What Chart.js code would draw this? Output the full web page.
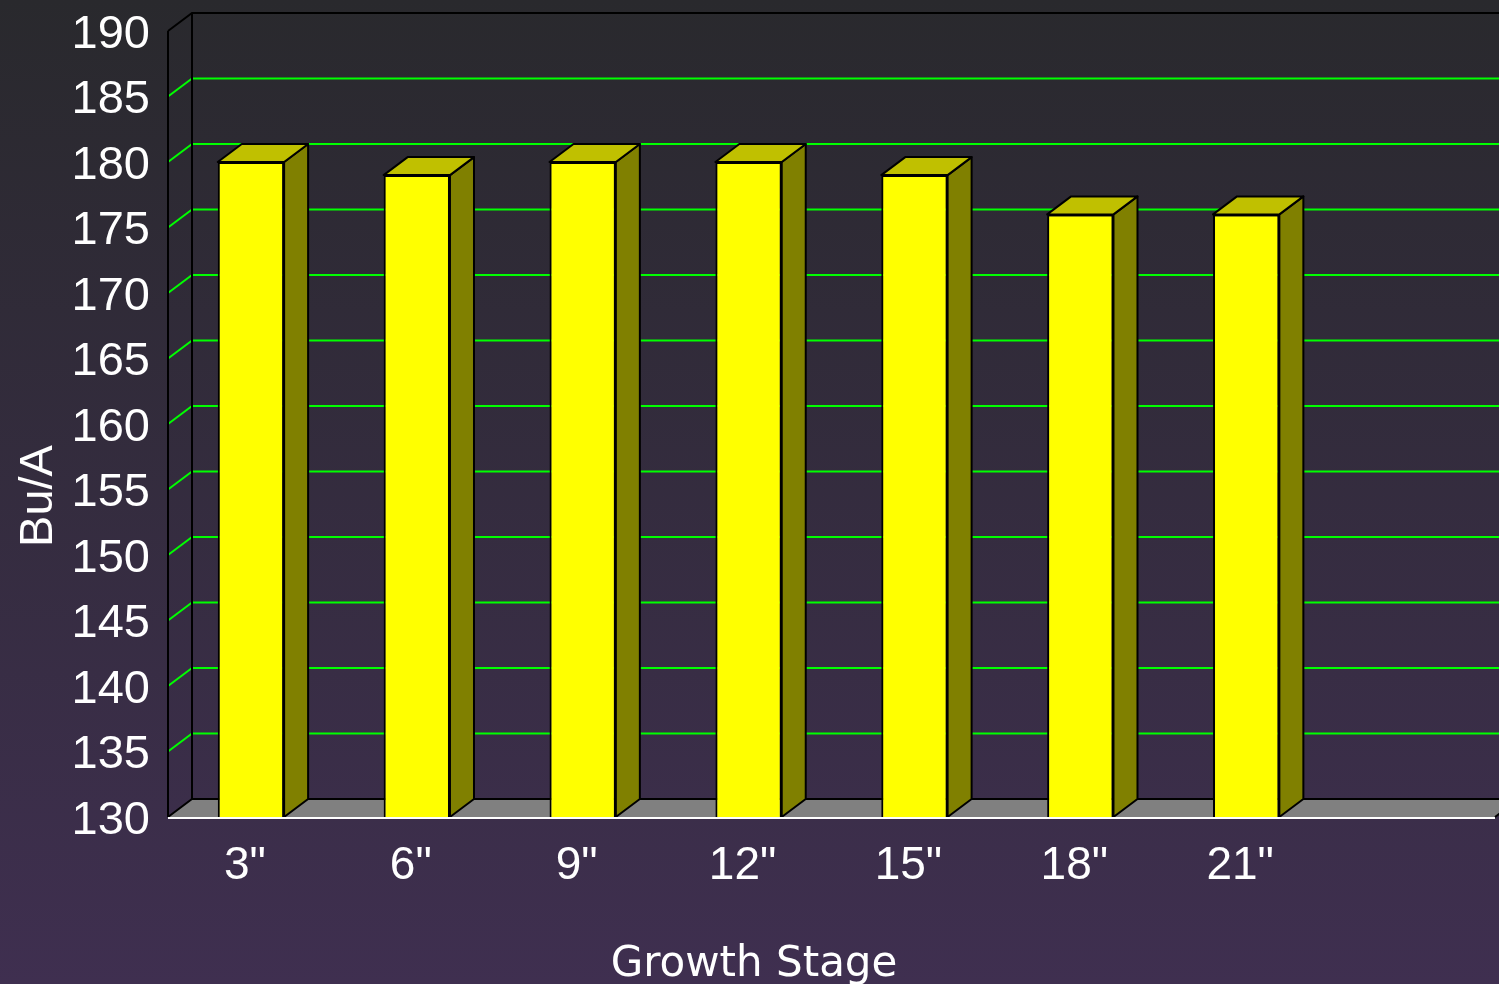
<!DOCTYPE html>
<html>
<head>
<meta charset="utf-8">
<script src="https://cdn.jsdelivr.net/npm/chart.js@4.4.1/dist/chart.umd.min.js"></script>
<style>
  html, body { margin: 0; padding: 0; background: #333; overflow: hidden; }
  #wrap { width: 1499px; height: 984px; position: relative; }
</style>
</head>
<body>
<div id="wrap"><canvas id="c" width="1499" height="984"></canvas></div>
<script>
// ---- data ----
const categories = ['3"', '6"', '9"', '12"', '15"', '18"', '21"', ''];
const yieldBuA = [180, 179, 180, 180, 179, 176, 176, null];
const yMin = 130;
const yMax = 190;
const yStep = 5;
const xTitle = 'Growth Stage';
const yTitle = 'Bu/A';

// ---- 3D look ----
const DX = 24, DY = -18;
const GRID = '#00ff00';

const threeD = {
  id: 'threeD',
  beforeDraw(chart) {
    const { ctx, width, height } = chart;
    const g = ctx.createLinearGradient(0, 0, 0, height);
    g.addColorStop(0, '#29292d');
    g.addColorStop(1, '#3f2f50');
    ctx.save();
    ctx.fillStyle = g;
    ctx.fillRect(0, 0, width, height);
    ctx.restore();
  },
  beforeDatasetsDraw(chart) {
    const { ctx, chartArea: a, scales: { y } } = chart;
    ctx.save();
    ctx.lineWidth = 2;
    // floor
    ctx.fillStyle = '#808080';
    ctx.beginPath();
    ctx.moveTo(a.left, a.bottom);
    ctx.lineTo(a.right, a.bottom);
    ctx.lineTo(a.right + DX, a.bottom + DY);
    ctx.lineTo(a.left + DX, a.bottom + DY);
    ctx.closePath();
    ctx.fill();
    // grid lines on back wall and side wall
    for (let v = yMin + yStep; v < yMax; v += yStep) {
      const yf = y.getPixelForValue(v);
      const yb = yf + DY;
      ctx.strokeStyle = GRID;
      ctx.beginPath();
      ctx.moveTo(a.left + DX, yb);
      ctx.lineTo(chart.width + 5, yb);
      ctx.stroke();
      ctx.beginPath();
      ctx.moveTo(a.left, yf);
      ctx.lineTo(a.left + DX, yb);
      ctx.stroke();
    }
    ctx.strokeStyle = '#000';
    // top edge
    ctx.beginPath();
    ctx.moveTo(a.left, a.top);
    ctx.lineTo(a.left + DX, a.top + DY);
    ctx.lineTo(chart.width + 5, a.top + DY);
    ctx.stroke();
    // back wall left edge
    ctx.beginPath();
    ctx.moveTo(a.left + DX, a.top + DY);
    ctx.lineTo(a.left + DX, a.bottom + DY);
    ctx.stroke();
    // front left axis
    ctx.beginPath();
    ctx.moveTo(a.left, a.top);
    ctx.lineTo(a.left, a.bottom);
    ctx.stroke();
    // floor back edge and left diagonal
    ctx.beginPath();
    ctx.moveTo(a.left, a.bottom);
    ctx.lineTo(a.left + DX, a.bottom + DY);
    ctx.lineTo(a.right + DX, a.bottom + DY);
    ctx.stroke();
    ctx.beginPath();
    ctx.moveTo(a.right, a.bottom);
    ctx.lineTo(a.right + DX, a.bottom + DY);
    ctx.stroke();
    ctx.restore();
  },
  afterDatasetsDraw(chart) {
    const { ctx, chartArea: a } = chart;
    const meta = chart.getDatasetMeta(0);
    ctx.save();
    ctx.lineWidth = 2;
    ctx.lineJoin = 'round';
    ctx.strokeStyle = '#000';
    meta.data.forEach((el, i) => {
      if (yieldBuA[i] == null) return;
      const p = el.getProps(['x', 'y', 'base', 'width'], true);
      const l = p.x - p.width / 2, r = p.x + p.width / 2;
      const base = Math.min(p.base, a.bottom);
      // side face
      ctx.fillStyle = '#808000';
      ctx.beginPath();
      ctx.moveTo(r, p.y);
      ctx.lineTo(r + DX, p.y + DY);
      ctx.lineTo(r + DX, base + DY);
      ctx.lineTo(r, base);
      ctx.closePath();
      ctx.fill();
      ctx.stroke();
      // top face
      ctx.fillStyle = '#c0c000';
      ctx.beginPath();
      ctx.moveTo(l, p.y);
      ctx.lineTo(l + DX, p.y + DY);
      ctx.lineTo(r + DX, p.y + DY);
      ctx.lineTo(r, p.y);
      ctx.closePath();
      ctx.fill();
      ctx.stroke();
    });
    // floor front edge
    ctx.strokeStyle = '#ffffff';
    ctx.beginPath();
    ctx.moveTo(a.left, a.bottom + 1);
    ctx.lineTo(a.right, a.bottom + 1);
    ctx.stroke();
    ctx.restore();
  },
  afterDraw(chart) {
    const { ctx } = chart;
    ctx.save();
    ctx.fillStyle = '#ffffff';
    ctx.textAlign = 'center';
    ctx.textBaseline = 'alphabetic';
    ctx.font = '42px "DejaVu Sans"';
    ctx.fillText(xTitle, 754, 976);
    ctx.translate(52, 496);
    ctx.rotate(-Math.PI / 2);
    ctx.font = '47px "Liberation Sans", Arial';
    ctx.fillText(yTitle, 0, 0);
    ctx.restore();
  }
};

new Chart(document.getElementById('c'), {
  type: 'bar',
  data: {
    labels: categories,
    datasets: [{
      data: yieldBuA,
      backgroundColor: '#ffff00',
      borderColor: '#000000',
      borderWidth: 2,
      borderSkipped: false,
      categoryPercentage: 1,
      barPercentage: 0.4
    }]
  },
  options: {
    responsive: false,
    animation: false,
    devicePixelRatio: 1,
    layout: { padding: { top: 31, right: 4, left: 0, bottom: 0 } },
    plugins: { legend: { display: false }, tooltip: { enabled: false } },
    scales: {
      x: {
        grid: { display: false, drawTicks: false },
        border: { display: false },
        ticks: {
          color: '#ffffff',
          font: { family: '"Liberation Sans", Arial', size: 46 },
          padding: 22,
          labelOffset: -6,
          maxRotation: 0,
          autoSkip: false
        },
        afterFit(s) { s.height = 167; s.paddingLeft = 0; s.paddingRight = 0; }
      },
      y: {
        min: yMin,
        max: yMax,
        grid: { display: false, drawTicks: false },
        border: { display: false },
        ticks: {
          stepSize: yStep,
          color: '#ffffff',
          font: { family: '"Liberation Sans", Arial', size: 47 },
          padding: 18,
          labelOffset: 4
        },
        afterFit(s) { s.width = 168; s.paddingTop = 0; s.paddingBottom = 0; }
      }
    }
  },
  plugins: [threeD]
});
</script>
</body>
</html>
